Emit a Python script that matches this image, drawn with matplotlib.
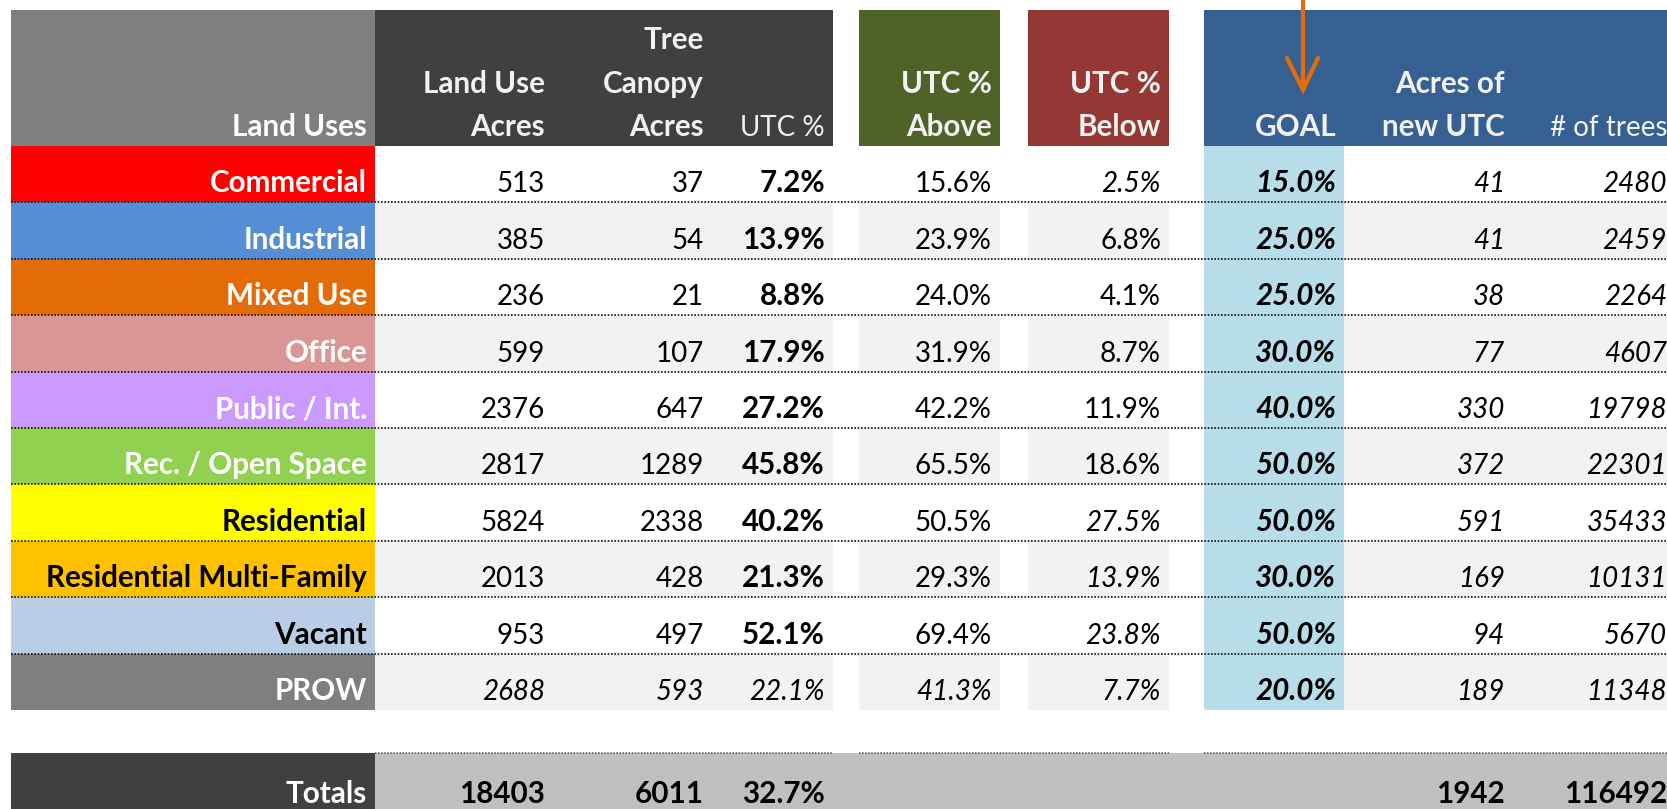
import matplotlib.pyplot as plt
from matplotlib.patches import Rectangle

plt.rcParams["font.family"] = ["Lato", "DejaVu Sans"]

# data
land_uses = ["Commercial", "Industrial", "Mixed Use", "Office", "Public / Int.",
             "Rec. / Open Space", "Residential", "Residential Multi-Family", "Vacant", "PROW"]
land_colors = ["#FF0000", "#558ED5", "#E36C09", "#D99694", "#CC99FF",
               "#92D050", "#FFFF00", "#FFC000", "#B9CDE5", "#7F7F7F"]
label_text_colors = ["white", "white", "white", "white", "white",
                     "white", "black", "black", "black", "white"]
land_acres = [513, 385, 236, 599, 2376, 2817, 5824, 2013, 953, 2688]
canopy_acres = [37, 54, 21, 107, 647, 1289, 2338, 428, 497, 593]
utc_pct = [7.2, 13.9, 8.8, 17.9, 27.2, 45.8, 40.2, 21.3, 52.1, 22.1]
utc_above = [15.6, 23.9, 24.0, 31.9, 42.2, 65.5, 50.5, 29.3, 69.4, 41.3]
utc_below = [2.5, 6.8, 4.1, 8.7, 11.9, 18.6, 27.5, 13.9, 23.8, 7.7]
below_italic = [True, False, False, False, False, False, True, True, True, True]
goal_pct = [15.0, 25.0, 25.0, 30.0, 40.0, 50.0, 50.0, 30.0, 50.0, 20.0]
new_utc_acres = [41, 41, 38, 77, 330, 372, 591, 169, 94, 189]
num_trees = [2480, 2459, 2264, 4607, 19798, 22301, 35433, 10131, 5670, 11348]
totals = ["18403", "6011", "32.7%", "", "", "", "1942", "116492"]

headers = ["Land Use\nAcres", "Tree\nCanopy\nAcres", "UTC %", "UTC %\nAbove",
           "UTC %\nBelow", "GOAL", "Acres of\nnew UTC", "# of trees"]
header_bold = [True, True, False, True, True, True, True, False]

# layout (pixels)
W, H = 1667, 809
label_x0, label_x1 = 11, 375
col_edges = [(375, 553), (553, 712), (712, 833), (859, 1000), (1028, 1169),
             (1204, 1344), (1344, 1513), (1513, 1675)]
header_groups = [((375, 833), "#404040"), ((859, 1000), "#4F6228"),
                 ((1028, 1169), "#953735"), ((1204, 1675), "#366092")]
grey_spans = [(375, 833), (859, 1000), (1028, 1169), (1344, 1675)]
head_top, head_bot = 10, 146
row_h = 56.4
tot_top, tot_bot = 753, 815
pad = 8
base_off = 10
line_gap = 43.5
fs = 20
fs_bold = 21.3
hdr_color = "#F2F2F2"

fig = plt.figure(figsize=(W / 100, H / 100), dpi=100)
ax = fig.add_axes([0, 0, 1, 1])
ax.set_xlim(0, W)
ax.set_ylim(H, 0)
ax.axis("off")


def rect(x0, x1, y0, y1, color):
    ax.add_patch(Rectangle((x0, y0), x1 - x0, y1 - y0, facecolor=color, edgecolor="none", zorder=1))


def cell_text(x, y, s, weight="normal", style="normal", color="black"):
    ax.text(x, y, s, ha="right", va="baseline",
            fontsize=fs_bold if weight == "bold" else fs,
            fontweight=weight, fontstyle=style, color=color, zorder=3)


# header
rect(label_x0, label_x1, head_top, head_bot, "#7F7F7F")
for (x0, x1), c in header_groups:
    rect(x0, x1, head_top, head_bot, c)
cell_text(label_x1 - pad, head_bot - base_off, "Land Uses", "bold", color="white")
for (x0, x1), txt, b in zip(col_edges, headers, header_bold):
    lines = txt.split("\n")
    for k, ln in enumerate(reversed(lines)):
        cell_text(x1 - pad, head_bot - base_off - k * line_gap, ln,
                  "bold" if b else "normal", color=hdr_color)

# data rows
n = len(land_uses)
for i in range(n):
    y0 = head_bot + i * row_h
    y1 = y0 + row_h
    rect(label_x0, label_x1, y0, y1, land_colors[i])
    if i % 2 == 1:
        for x0, x1 in grey_spans:
            rect(x0, x1, y0, y1, "#F2F2F2")
    rect(*col_edges[5], y0, y1, "#B7DEE8")
    yb = y1 - base_off
    prow = land_uses[i] == "PROW"
    cell_text(label_x1 - pad, yb, land_uses[i], "bold", color=label_text_colors[i])
    cells = [
        (f"{land_acres[i]}", "normal", "italic" if prow else "normal"),
        (f"{canopy_acres[i]}", "normal", "italic" if prow else "normal"),
        (f"{utc_pct[i]:.1f}%", "normal" if prow else "bold", "italic" if prow else "normal"),
        (f"{utc_above[i]:.1f}%", "normal", "italic" if prow else "normal"),
        (f"{utc_below[i]:.1f}%", "normal", "italic" if below_italic[i] else "normal"),
        (f"{goal_pct[i]:.1f}%", "bold", "italic"),
        (f"{new_utc_acres[i]}", "normal", "italic"),
        (f"{num_trees[i]}", "normal", "italic"),
    ]
    for (x0, x1), (s, w, st) in zip(col_edges, cells):
        cell_text(x1 - pad, yb, s, w, st)
    if i < n - 1:
        ax.plot([label_x0, W], [y1, y1], color="#111111", lw=1.2,
                linestyle=(0, (1, 1)), zorder=4)

# totals
rect(label_x0, label_x1, tot_top, tot_bot, "#404040")
rect(label_x1, W, tot_top, tot_bot, "#BFBFBF")
for x0, x1 in [(375, 833), (859, 1169), (1204, W)]:
    ax.plot([x0, x1], [tot_top, tot_top], color="#555555", lw=1.1,
            linestyle=(0, (1, 1)), zorder=4)
yb = 803
cell_text(label_x1 - pad, yb, "Totals", "bold", color="white")
for (x0, x1), s in zip(col_edges, totals):
    if s:
        cell_text(x1 - pad, yb, s, "bold")

# orange arrow pointing at GOAL
arrow_x, arrow_tip = 1303, 90
ax.plot([arrow_x, arrow_x], [0, arrow_tip - 2], color="#E46C0A", lw=3, zorder=5,
        solid_capstyle="butt")
ax.plot([arrow_x - 16, arrow_x, arrow_x + 15], [58, arrow_tip, 58], color="#E46C0A",
        lw=3, zorder=5, solid_capstyle="round", solid_joinstyle="miter")

fig.savefig("out.png", dpi=100)
